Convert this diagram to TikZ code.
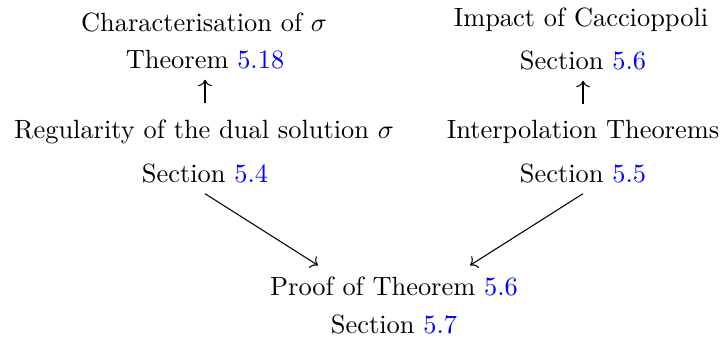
\documentclass[tikz,border=0pt]{standalone}
\usepackage{amsmath,amssymb}
\usepackage{xcolor}
\usepackage{tikz}
\usetikzlibrary{arrows.meta}
\definecolor{RefBlue}{HTML}{0000FF}
\newcommand{\refno}[1]{\textcolor{RefBlue}{#1}}

\begin{document}
\begin{tikzpicture}[x=0.3788pt,y=-0.3788pt,
                    every node/.style={anchor=base,inner sep=4pt},
                    ar/.style={-To,thin}]
      \useasboundingbox (0,0) rectangle (721,338);
      \node (char) at (204,31) {Characterisation of $\sigma$};
      \node (thm)  at (205,68) {Theorem \refno{5.18}};
      \node (reg)  at (204,138) {Regularity of the dual solution $\sigma$};
      \node (sec4) at (205,182) {Section \refno{5.4}};
      \node (imp)  at (581,26) {Impact of Caccioppoli};
      \node (sec6) at (583,69) {Section \refno{5.6}};
      \node (intp) at (583,138) {Interpolation Theorems};
      \node (sec5) at (583,182) {Section \refno{5.5}};
      \node (prf)  at (394,295) {Proof of Theorem \refno{5.6}};
      \node (sec7) at (394,333) {Section \refno{5.7}};
      \draw[ar,shorten <=1.9pt] (reg.north -| thm.south) -- (thm.south);
      \draw[ar,shorten <=1.9pt] (intp.north -| sec6.south) -- (sec6.south);
      \draw[ar] (sec4.south) -- ([xshift=-28.8pt]prf.north);
      \draw[ar] (sec5.south) -- ([xshift=28.8pt]prf.north);
    \end{tikzpicture}
\end{document}
